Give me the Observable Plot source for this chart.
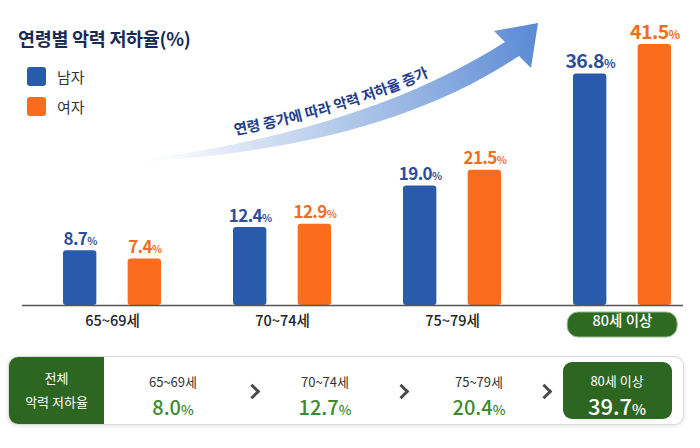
<!DOCTYPE html>
<html><head><meta charset="utf-8">
<script src="https://cdn.jsdelivr.net/npm/d3@7"></script>
<script src="https://cdn.jsdelivr.net/npm/@observablehq/plot@0.6"></script>
<style>
body{margin:0;background:#fff;font-family:'Noto Sans CJK KR','Noto Sans',sans-serif;}
#wrap{position:relative;width:700px;height:448px;overflow:hidden;background:#fff;}
#chart{position:absolute;left:0;top:0;}
.title{position:absolute;left:18px;top:26px;font-size:18.5px;line-height:24px;font-weight:700;color:#1b2a52;letter-spacing:-0.3px;}
.sw{position:absolute;left:27px;width:19px;height:19px;border-radius:3px;}
.lg{position:absolute;left:57px;font-size:15px;line-height:19px;color:#333;}
.panel{position:absolute;left:8px;top:356px;width:676px;height:69px;border:1px solid #dcdcdc;border-radius:10px;box-sizing:border-box;box-shadow:0 1px 4px rgba(0,0,0,.12);background:#fff;overflow:hidden;}
.lead{position:absolute;left:0;top:0;width:95px;height:100%;background:#2d6620;color:#fff;}
.t{position:absolute;text-align:center;white-space:nowrap;}
.chev{position:absolute;width:8px;height:8px;border-right:3px solid #4a4a4a;border-top:3px solid #4a4a4a;transform:rotate(45deg);}
.box{position:absolute;left:554px;top:5px;width:109px;height:57px;border-radius:9px;background:#2d6620;}
.pct{font-size:0.68em;}
</style></head><body><div id="wrap"></div>
<script>
const ages = ["65~69세", "70~74세", "75~79세", "80세 이상"];
const male = [8.7, 12.4, 19.0, 36.8];
const female = [7.4, 12.9, 21.5, 41.5];
const sexes = ["남자", "여자"];
const overall = [8.0, 12.7, 20.4, 39.7];
const sexColors = ["#2a5bab", "#fb6d1c"];
const labelColors = ["#2c4e9c", "#f06e21"];
const titleText = "연령별 악력 저하율(%)";
const trendText = "연령 증가에 따라 악력 저하율 증가";
const overallLabel = ["전체", "악력 저하율"];
const highlight = "80세 이상";

const rows = ages.flatMap((age, i) => [
  {age, sex: sexes[0], value: male[i]},
  {age, sex: sexes[1], value: female[i]}
]);

const W = 700, H = 345, MT = 22, MB = 40, ML = 22, MR = 17;
const xRange = [63, 671], padIn = 0.426;
const band = d3.scaleBand(ages, xRange).paddingInner(padIn).paddingOuter(0);
const bw = band.bandwidth();
const BAR = 33;
const inset = bw - BAR;
const off = (bw - BAR) / 2;

function valText(sex, big, i) {
  return Plot.text(rows.filter(d => d.sex === sex && (d.age === highlight) === big), {
    x: "age", y: "value", text: d => d.value.toFixed(1) + "%",
    dx: i === 0 ? -off : off, lineAnchor: "bottom", dy: -6,
    fill: labelColors[i], fontSize: big ? 19.5 : 17, fontWeight: 700
  });
}

const chart = Plot.plot({
  width: W, height: H, marginTop: MT, marginBottom: MB, marginLeft: ML, marginRight: MR,
  style: {fontFamily: "'Noto Sans CJK KR', sans-serif", background: "transparent", overflow: "visible"},
  x: {domain: ages, range: xRange, paddingInner: padIn, paddingOuter: 0, axis: null},
  y: {domain: [0, 45], axis: null},
  marks: [
    Plot.barY(rows.filter(d => d.sex === sexes[0]), {x: "age", y: "value", fill: sexColors[0], insetRight: inset, rx: 3}),
    Plot.barY(rows.filter(d => d.sex === sexes[1]), {x: "age", y: "value", fill: sexColors[1], insetLeft: inset, rx: 3}),
    Plot.ruleY([0], {stroke: "#555", strokeWidth: 1.6}),
    valText(sexes[0], false, 0), valText(sexes[0], true, 0),
    valText(sexes[1], false, 1), valText(sexes[1], true, 1),
    Plot.text(ages.filter(a => a !== highlight), {x: d => d, frameAnchor: "bottom", dy: 20, fill: "#222", fontSize: 14.5, fontWeight: 500}),
    Plot.text(ages.filter(a => a === highlight), {x: d => d, frameAnchor: "bottom", dy: 20, fill: "#fff", fontSize: 14.5, fontWeight: 500})
  ]
});
chart.id = "chart";

const svg = d3.select(chart);
// smaller % signs, slightly condensed digits
svg.selectAll("text").each(function () {
  const m = this.textContent.match(/^(\d+\.\d)%$/);
  if (m) {
    this.textContent = m[1];
    d3.select(this).attr("letter-spacing", "-0.6").append("tspan").attr("font-size", "0.62em").text("%");
  }
});
// pill behind highlighted category label
const y0 = H - MB;
const cx = band(highlight) + bw / 2;
svg.insert("rect", ":first-child").attr("x", cx - 55).attr("y", y0 + 7).attr("width", 110).attr("height", 25)
  .attr("rx", 11).attr("fill", "#2e6a22").attr("stroke", "#9bb893").attr("stroke-width", 1);

// trend arrow annotation
const defs = svg.append("defs");
const grad = defs.append("linearGradient").attr("id", "arrowGrad").attr("gradientUnits", "userSpaceOnUse")
  .attr("x1", 118).attr("y1", 160).attr("x2", 536).attr("y2", 30);
[[0, "#ffffff", 0], [0.25, "#dfe8f5", 1], [0.7, "#94b3e2", 1], [1, "#5a8ad5", 1]].forEach(([o, c, op]) =>
  grad.append("stop").attr("offset", o).attr("stop-color", c).attr("stop-opacity", op));
svg.append("path")
  .attr("d", "M118,163 C250,147 392,114 505,42 L494,31 L538,23 L531,68 L519,56 C420,122 290,155 118,163 Z")
  .attr("fill", "url(#arrowGrad)");
defs.append("path").attr("id", "trendPath").attr("d", "M235,135 C305,122 385,100 455,64");
svg.append("text").attr("font-size", 14.5).attr("font-weight", 700).attr("fill", "#1f3d8a")
  .attr("text-anchor", "start")
  .append("textPath").attr("href", "#trendPath").attr("text-anchor", "start").text(trendText);

const wrap = document.getElementById("wrap");
wrap.appendChild(chart);

// title + legend
const t = document.createElement("div"); t.className = "title"; t.textContent = titleText; wrap.appendChild(t);
sexes.forEach((s, i) => {
  const sw = document.createElement("div"); sw.className = "sw"; sw.style.top = (67 + i * 30) + "px"; sw.style.background = sexColors[i]; wrap.appendChild(sw);
  const lg = document.createElement("div"); lg.className = "lg"; lg.style.top = (67 + i * 30) + "px"; lg.textContent = s; wrap.appendChild(lg);
});

// bottom overall panel
const panel = document.createElement("div"); panel.className = "panel";
const lead = document.createElement("div"); lead.className = "lead";
overallLabel.forEach((s, i) => {
  const d = document.createElement("div"); d.className = "t";
  Object.assign(d.style, {left: "0", width: "95px", top: (11 + i * 24) + "px", lineHeight: "20px", fontSize: "13px", color: "#fff"});
  d.textContent = s; lead.appendChild(d);
});
panel.appendChild(lead);
const centers = [164, 316, 470];
const chevs = [245, 394, 537];
const box = document.createElement("div"); box.className = "box"; panel.appendChild(box);
ages.forEach((a, i) => {
  const last = i === ages.length - 1;
  const c = last ? 608 : centers[i];
  const l = document.createElement("div"); l.className = "t";
  Object.assign(l.style, {left: (c - 60) + "px", width: "120px", top: (last ? 14 : 15) + "px", lineHeight: "20px", fontSize: "13px", color: last ? "#fff" : "#333"});
  l.textContent = a; panel.appendChild(l);
  const v = document.createElement("div"); v.className = "t";
  Object.assign(v.style, {left: (c - 60) + "px", width: "120px", top: (last ? 34 : 36) + "px", lineHeight: "28px", fontSize: last ? "22px" : "20px", fontWeight: "500", color: last ? "#fff" : "#3d8a2f"});
  v.innerHTML = overall[i].toFixed(1) + '<span class="pct">%</span>';
  panel.appendChild(v);
});
chevs.forEach(c => {
  const ch = document.createElement("div"); ch.className = "chev";
  Object.assign(ch.style, {left: (c - 7) + "px", top: "29px"});
  panel.appendChild(ch);
});
wrap.appendChild(panel);
</script></body></html>
